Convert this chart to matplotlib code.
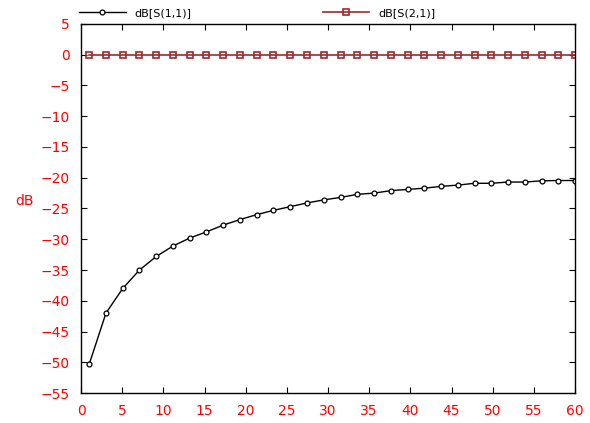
import numpy as np
import matplotlib.pyplot as plt

# frequency points and the two traces
freq = np.linspace(1, 60, 30)
s11_db = [-50.3, -42.0, -38.0, -35.0, -32.8, -31.1, -29.8, -28.8, -27.7, -26.8,
          -26.0, -25.3, -24.7, -24.1, -23.6, -23.2, -22.7, -22.5, -22.1, -21.9,
          -21.7, -21.4, -21.2, -20.9, -20.9, -20.7, -20.7, -20.5, -20.45, -20.45]
s21_db = [0.0] * 30

xticks = list(range(0, 61, 5))
yticks = list(range(-55, 6, 5))

fig = plt.figure(figsize=(5.9, 4.23), dpi=100)
ax = fig.add_axes([0.1373, 0.0709, 0.8373, 0.8724])

l1, = ax.plot(freq, s11_db, color='black', lw=1, marker='o', ms=3.5,
              mfc='white', mec='black', mew=0.9, label='dB[S(1,1)]')
l2, = ax.plot(freq, s21_db, color='#9e2a2a', lw=1.2, marker='s', ms=4.5,
              mfc='none', mec='#9e2a2a', mew=1.2, label='dB[S(2,1)]')

ax.set_xlim(0, 60)
ax.set_ylim(-55, 5)
ax.set_xticks(xticks)
ax.set_yticks(yticks)
ax.tick_params(direction='in', length=4, colors='black', labelcolor='red',
               labelsize=10, top=True, right=True, pad=8)
ax.set_ylabel('dB', color='red', fontsize=10, rotation=0, labelpad=10)
ax.yaxis.set_label_coords(-0.115, 0.5)
for s in ax.spines.values():
    s.set_linewidth(1)

fig.legend(handles=[l1, l2], loc='upper left', bbox_to_anchor=(0.117, 1.005),
           ncol=2, frameon=False, fontsize=8, handlelength=4.2,
           columnspacing=11.8, handletextpad=0.8, markerfirst=True)

fig.savefig('out.png', dpi=100)
